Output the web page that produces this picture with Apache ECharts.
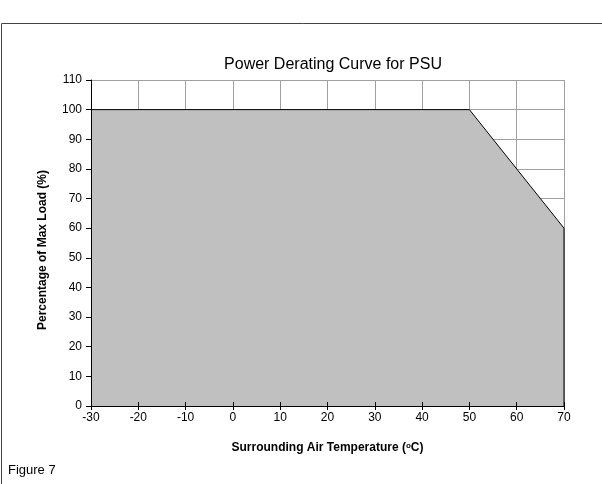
<!DOCTYPE html>
<html>
<head>
<meta charset="utf-8">
<script src="https://cdn.jsdelivr.net/npm/echarts@6/dist/echarts.min.js"></script>
<style>
  html, body { margin: 0; padding: 0; background: #fff; }
  #chart { width: 602px; height: 484px; }
</style>
</head>
<body>
<div id="chart"></div>
<script>
// derating curve outline
var temps = [-30, 50, 70, 70];
var loads = [100, 100, 60, 0];
var xTicks = [-30, 70, 10];   // min, max, step
var yTicks = [0, 110, 10];

var myChart = echarts.init(document.getElementById("chart"));
var font = "Liberation Sans, Arial, sans-serif";
var labelStyle = { fontFamily: font, fontSize: 12, color: "#000" };
var nameStyle = { fontFamily: font, fontSize: 12, fontWeight: "bold", color: "#000" };
var gridLine = { show: true, lineStyle: { color: "#a0a0a0", width: 1 } };
var off = { show: false };

myChart.setOption({
  animation: false,
  backgroundColor: "#fff",
  textStyle: { fontFamily: font },
  title: {
    text: "Power Derating Curve for PSU",
    left: 328,
    textAlign: "center",
    top: 52,
    textStyle: { fontFamily: font, fontSize: 16, fontWeight: "normal", color: "#000" },
  },
  graphic: [
    {
      type: "rect",
      shape: { x: 1.5, y: 23.5, width: 640, height: 500 },
      style: { fill: null, stroke: "#444", lineWidth: 1 },
      silent: true,
    },
    {
      type: "text",
      left: 8,
      top: 464,
      style: { text: "Figure 7", fontFamily: font, fontSize: 13, fill: "#000" },
    },
  ],
  grid: { left: 91, right: 38, top: 80, bottom: 78 },
  // axis 0 carries the grid lines under the fill, the others the black axis, ticks and labels on top
  xAxis: [
    {
      type: "value",
      min: xTicks[0], max: xTicks[1], interval: xTicks[2],
      axisLine: off, axisTick: off, axisLabel: off,
      splitLine: gridLine,
      z: 0,
    },
    {
      type: "value",
      position: "bottom",
      min: xTicks[0], max: xTicks[1], interval: xTicks[2],
      name: "Surrounding Air Temperature ({s|o}C)",
      nameLocation: "middle",
      nameGap: 36,
      nameTextStyle: Object.assign({}, nameStyle, {
        rich: { s: { fontSize: 8, fontWeight: "bold", verticalAlign: "top", padding: [0, 0, 4, 0] } },
      }),
      axisLine: { show: true, onZero: false, lineStyle: { color: "#000", width: 1 } },
      axisTick: { show: true, length: 4, lineStyle: { color: "#000" } },
      axisLabel: Object.assign({ margin: 6 }, labelStyle),
      splitLine: off,
      z: 5,
    },
    {
      // tick marks poking up into the plot
      type: "value",
      position: "bottom",
      min: xTicks[0], max: xTicks[1], interval: xTicks[2],
      axisLine: { show: false, onZero: false },
      axisTick: { show: true, inside: true, length: 4, lineStyle: { color: "#000" } },
      axisLabel: off,
      splitLine: off,
      z: 5,
    },
  ],
  yAxis: [
    {
      type: "value",
      min: yTicks[0], max: yTicks[1], interval: yTicks[2],
      axisLine: off, axisTick: off, axisLabel: off,
      splitLine: gridLine,
      z: 0,
    },
    {
      type: "value",
      position: "left",
      min: yTicks[0], max: yTicks[1], interval: yTicks[2],
      name: "Percentage of Max Load (%)",
      nameLocation: "middle",
      nameGap: 42,
      nameTextStyle: Object.assign({ padding: [0, 14, 0, 0] }, nameStyle),
      axisLine: { show: true, onZero: false, lineStyle: { color: "#000", width: 1 } },
      axisTick: { show: true, length: 5, lineStyle: { color: "#000" } },
      axisLabel: Object.assign({ margin: 9 }, labelStyle),
      splitLine: off,
      z: 5,
    },
  ],
  series: [
    {
      type: "line",
      xAxisIndex: 0,
      yAxisIndex: 0,
      data: temps.map(function (t, i) { return [t, loads[i]]; }),
      symbol: "none",
      lineStyle: { color: "#000", width: 1 },
      areaStyle: { color: "#c0c0c0", opacity: 1 },
      z: 3,
    },
  ],
});
</script>
</body>
</html>
